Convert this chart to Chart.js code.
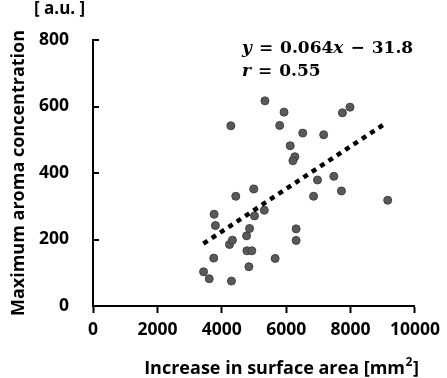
<!DOCTYPE html>
<html>
<head>
<meta charset="utf-8">
<script src="https://cdn.jsdelivr.net/npm/chart.js@4.4.1/dist/chart.umd.min.js"></script>
<style>
  html, body { margin: 0; padding: 0; background: #fff; }
  #wrap { width: 447px; height: 378px; }
</style>
</head>
<body>
<div id="wrap"><canvas id="chart" width="447" height="378"></canvas></div>
<script>
// values
const surfaceArea = [5340, 4281, 4994, 4434, 3761, 5015, 5321, 5933, 5798, 7746, 7982, 6514,
                     7165, 6125, 6269, 6208, 6972, 7480, 6850, 7716, 9153, 3801, 4862, 4770,
                     4239, 4330, 4780, 4933, 3750, 3434, 3609, 4300, 4841, 6309, 6309, 5657];
const aromaConc   = [617, 542, 352, 330, 276, 271, 288, 583, 543, 581, 598, 520,
                     515, 482, 449, 437, 379, 390, 330, 346, 318, 242, 233, 211,
                     185, 198, 166, 166, 144, 103, 82, 75, 118, 232, 197, 143];
// regression line end points (y = 0.064x - 31.8)
const trendX = [3430, 9100];
const trendY = [187.7, 550.6];
const xTickValues = [0, 2000, 4000, 6000, 8000, 10000];
const yTickValues = [0, 200, 400, 600, 800];

const FONT = '"Open Sans"';
const sansBold = { family: 'Open Sans', size: 17.5, weight: 'bold' };

// inward y ticks, axis titles, equation text
const extras = {
  id: 'extras',
  afterDraw(chart) {
    const { ctx, chartArea, scales } = chart;
    ctx.save();
    ctx.strokeStyle = '#000';
    ctx.lineWidth = 2;
    yTickValues.forEach(v => {
      const py = Math.round(scales.y.getPixelForValue(v));
      ctx.beginPath();
      ctx.moveTo(chartArea.left, py);
      ctx.lineTo(chartArea.left + 6, py);
      ctx.stroke();
    });

    ctx.fillStyle = '#000';
    ctx.font = 'bold 18px ' + FONT;
    ctx.textBaseline = 'alphabetic';

    // y title
    ctx.save();
    ctx.translate(24, (chartArea.top + chartArea.bottom) / 2);
    ctx.rotate(-Math.PI / 2);
    ctx.textAlign = 'center';
    ctx.fillText('Maximum aroma concentration', 0, 0);
    ctx.restore();

    // unit label
    ctx.textAlign = 'left';
    ctx.font = 'bold 17px ' + FONT;
    ctx.fillText('[ a.u. ]', 34, 14);

    // x title with superscript
    ctx.font = 'bold 18px ' + FONT;
    const main = 'Increase in surface area [mm';
    const wMain = ctx.measureText(main).width;
    ctx.font = 'bold 12px ' + FONT;
    const wSup = ctx.measureText('2').width;
    ctx.font = 'bold 18px ' + FONT;
    const wEnd = ctx.measureText(']').width;
    const x0 = 281 - (wMain + wSup + wEnd) / 2;
    ctx.fillText(main, x0, 374);
    ctx.font = 'bold 12px ' + FONT;
    ctx.fillText('2', x0 + wMain + 0.5, 366);
    ctx.font = 'bold 18px ' + FONT;
    ctx.fillText(']', x0 + wMain + wSup + 1, 374);

    // equation, laid out piece by piece
    const it = 'italic bold 17px "DejaVu Serif"';
    const rm = 'bold 17px "DejaVu Serif"';
    const drawLine = (pieces, px, py) => {
      pieces.forEach(([f, t, gap]) => {
        ctx.font = f;
        ctx.fillText(t, px, py);
        px += ctx.measureText(t).width + gap;
      });
    };
    drawLine([[it, 'y', 7], [rm, '=', 7], [rm, '0.064', 0], [it, 'x', 7], [rm, '\u2212', 7], [rm, '31.8', 0]], 242, 52.7);
    drawLine([[it, 'r', 7], [rm, '=', 7], [rm, '0.55', 0]], 242, 76);
    ctx.restore();
  }
};

new Chart(document.getElementById('chart'), {
  type: 'scatter',
  data: {
    datasets: [
      {
        type: 'line',
        data: trendX.map((x, i) => ({ x: x, y: trendY[i] })),
        borderColor: '#000',
        borderWidth: 4.5,
        borderDash: [5, 5],
        borderCapStyle: 'butt',
        pointRadius: 0,
        fill: false
      },
      {
        data: surfaceArea.map((x, i) => ({ x: x, y: aromaConc[i] })),
        backgroundColor: '#595959',
        borderColor: '#404040',
        borderWidth: 1,
        pointRadius: 4
      }
    ]
  },
  options: {
    responsive: false,
    devicePixelRatio: 1,
    animation: false,
    layout: { padding: { top: 40, right: 26, left: 0, bottom: 0 } },
    plugins: { legend: { display: false }, tooltip: { enabled: false } },
    scales: {
      x: {
        type: 'linear',
        min: 0,
        max: 10000,
        afterBuildTicks: s => { s.ticks = xTickValues.map(v => ({ value: v })); },
        ticks: { color: '#000', font: sansBold, padding: 7, maxRotation: 0, callback: v => String(v) },
        grid: { display: true, drawOnChartArea: false, drawTicks: true, tickLength: 7, tickWidth: 2, color: '#000' },
        border: { display: true, color: '#000', width: 2 },
        afterFit: s => { s.height = 72; }
      },
      y: {
        min: 0,
        max: 800,
        afterBuildTicks: s => { s.ticks = yTickValues.map(v => ({ value: v })); },
        ticks: { color: '#000', font: sansBold, padding: 16, callback: v => String(v) },
        grid: { display: false },
        border: { display: true, color: '#000', width: 2 },
        afterFit: s => { s.width = 93; }
      }
    }
  },
  plugins: [extras]
});
</script>
</body>
</html>
